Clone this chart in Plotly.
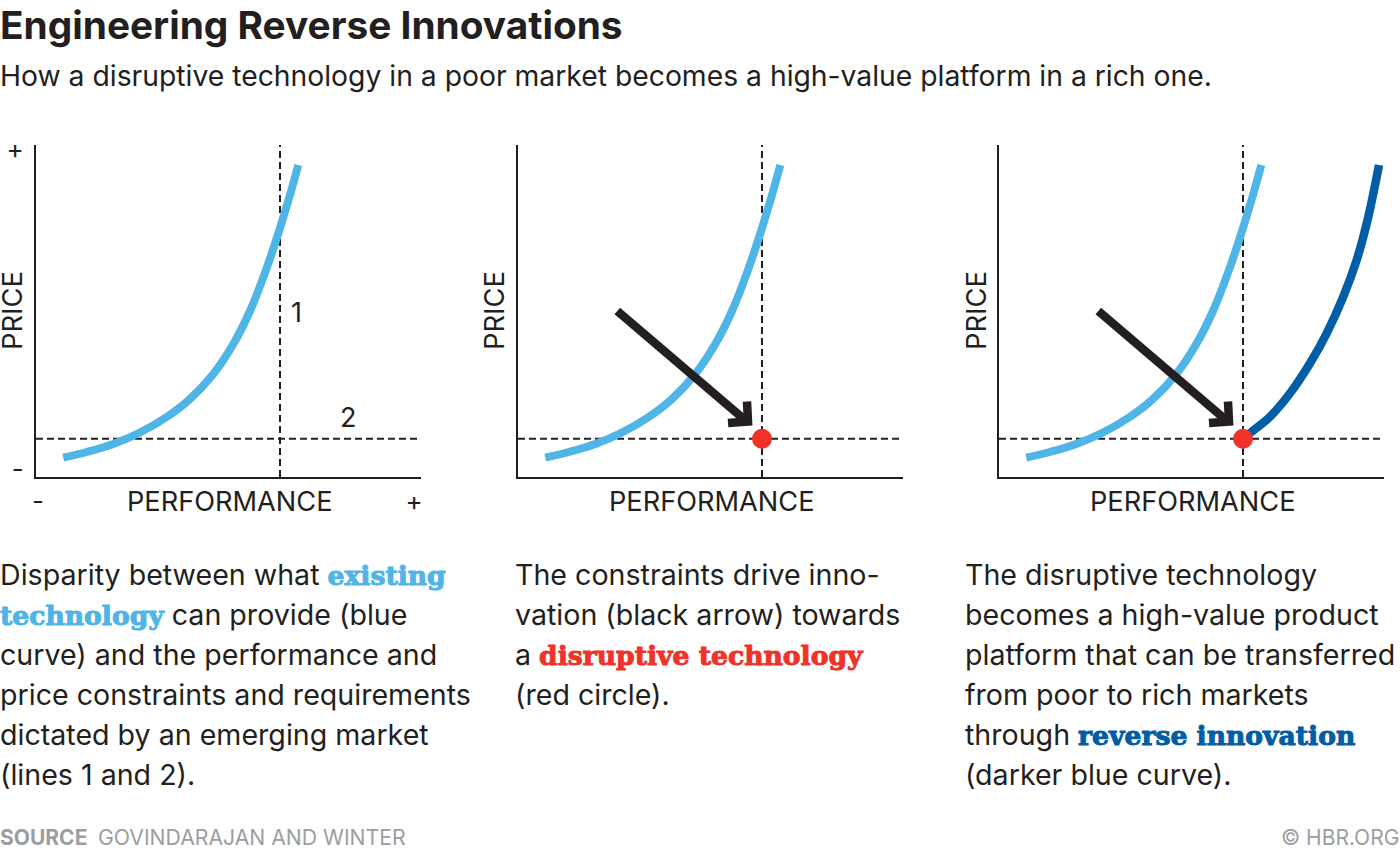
import plotly.graph_objects as go

W, H = 1400, 852
FONT = "Inter"
SLAB = "DejaVu Serif"
INK = "#231f20"
LIGHT = "#4fb4e6"
DARK = "#005da6"
RED = "#ef3329"
GREY = "#9a9ea2"

# --- data (axis units) ---
existing_x = [28.3, 51.7, 78.3, 105, 131.7, 155, 178.3, 198.3, 215, 231.7, 245, 255, 263.3]
existing_y = [20.3, 26, 34, 45.5, 61, 79, 104, 134, 167, 210, 250, 283, 313]
reverse_x = [245, 253.7, 272, 292, 312, 328.7, 345.3, 358.7, 370.3, 381]
reverse_y = [39.3, 46.3, 61.3, 84.7, 114.7, 144.7, 181.3, 218, 261.3, 313]
limit_performance = 245
limit_price = 39.3
arrow_shaft_x = [100.3, 228]
arrow_shaft_y = [167, 58]
arrow_head_x = [230, 231, 211]
arrow_head_y = [76.5, 56.5, 55]
x_range = [1, 386]
y_range = [1, 333]

title = "Engineering Reverse Innovations"
subtitle = "How a disruptive technology in a poor market becomes a high-value platform in a rich one."
x_label = "PERFORMANCE"
y_label = "PRICE"
x_tick_vals = [3, 379]
y_tick_vals = [9, 329]
tick_text_x = ["-", "+"]
tick_text_y = ["-", "+"]


def hl(text, color):
    return (f'<span style="font-family:\'{SLAB}\';font-weight:700;font-size:26.6px;color:{color};'
            f'stroke:{color};stroke-width:1px">{text}</span>')


col1 = [
    "Disparity between what " + hl("existing", LIGHT),
    hl("technology", LIGHT) + " can provide (blue",
    "curve) and the performance and",
    "price constraints and requirements",
    "dictated by an emerging market",
    "(lines 1 and 2).",
]
col2 = [
    "The constraints drive inno-",
    "vation (black arrow) towards",
    "a " + hl("disruptive technology", RED),
    "(red circle).",
]
col3 = [
    "The disruptive technology",
    "becomes a high-value product",
    "platform that can be transferred",
    "from poor to rich markets",
    "through " + hl("reverse innovation", DARK),
    "(darker blue curve).",
]

panels = [35, 517, 998]
fig = go.Figure()


def xp(v):
    return v / W


def yp(v):
    return 1 - v / H


layout_axes = {}
for i, left in enumerate(panels):
    n = "" if i == 0 else str(i + 1)
    xa = dict(
        domain=[xp(left + 1), xp(left + 386)], range=x_range, showgrid=False, zeroline=False,
        showline=True, linecolor=INK, linewidth=2, anchor=f"y{n}",
    )
    ya = dict(
        domain=[yp(477), yp(145)], range=y_range, showgrid=False, zeroline=False,
        showline=True, linecolor=INK, linewidth=2, anchor=f"x{n}",
    )
    if i == 0:
        xa.update(tickmode="array", tickvals=x_tick_vals, ticktext=tick_text_x, ticks="",
                  tickfont=dict(family=FONT, size=26, color=INK))
        ya.update(tickmode="array", tickvals=y_tick_vals, ticktext=tick_text_y, ticks="outside",
                  ticklen=5, tickcolor="rgba(0,0,0,0)", tickfont=dict(family=FONT, size=26, color=INK))
    else:
        xa.update(showticklabels=False, ticks="")
        ya.update(showticklabels=False, ticks="")
    layout_axes[f"xaxis{n}"] = xa
    layout_axes[f"yaxis{n}"] = ya

    ax, ay = f"x{n}", f"y{n}"
    dash = dict(color=INK, width=2, dash="7px,4px")
    fig.add_trace(go.Scatter(x=[limit_performance] * 2, y=y_range, mode="lines", line=dash, xaxis=ax, yaxis=ay))
    fig.add_trace(go.Scatter(x=x_range, y=[limit_price] * 2, mode="lines", line=dash, xaxis=ax, yaxis=ay))
    fig.add_trace(go.Scatter(x=existing_x, y=existing_y, mode="lines",
                             line=dict(color=LIGHT, width=8, shape="spline", smoothing=1), xaxis=ax, yaxis=ay))
    if i == 2:
        fig.add_trace(go.Scatter(x=reverse_x, y=reverse_y, mode="lines",
                                 line=dict(color=DARK, width=8.5, shape="spline", smoothing=1), xaxis=ax, yaxis=ay))
    if i > 0:
        fig.add_trace(go.Scatter(x=arrow_shaft_x, y=arrow_shaft_y, mode="lines",
                                 line=dict(color=INK, width=8.5), xaxis=ax, yaxis=ay))
        fig.add_trace(go.Scatter(x=arrow_head_x, y=arrow_head_y, mode="lines",
                                 line=dict(color=INK, width=8.5), xaxis=ax, yaxis=ay))
        fig.add_trace(go.Scatter(x=[limit_performance], y=[limit_price], mode="markers",
                                 marker=dict(color=RED, size=20, line=dict(width=0)), xaxis=ax, yaxis=ay))

ann = []


def put(text, x, y, size=28.6, color=INK, anchor="left", angle=0):
    ann.append(dict(text=text, xref="paper", yref="paper", x=xp(x), y=yp(y), xanchor=anchor, yanchor="middle",
                    showarrow=False, textangle=angle, align=anchor, borderpad=0,
                    font=dict(family=FONT, size=size, color=color)))


put(subtitle, -1, 76, size=28.3)
for cx in [230, 712, 1193]:
    put(x_label, cx, 501, size=27.2, anchor="center")
for cx in [12, 494, 976]:
    put(y_label, cx, 311, size=27.4, anchor="center", angle=-90)
put("1", 296, 313, size=27, anchor="center")
put("2", 348, 417, size=27, anchor="center")
for x0, lines in [(-1.5, col1), (513.5, col2), (963.5, col3)]:
    for k, line in enumerate(lines):
        put(line, x0, 574 + 40 * k)
put("<b>SOURCE</b>", -1, 837, size=21, color=GREY)
put("GOVINDARAJAN AND WINTER", 97, 837, size=21.2, color=GREY)
put("© HBR.ORG", 1400, 837, size=21, color=GREY, anchor="right")

fig.update_layout(
    width=W, height=H, margin=dict(l=0, r=0, t=0, b=0, autoexpand=False), showlegend=False,
    paper_bgcolor="white", plot_bgcolor="white", annotations=ann,
    title=dict(text="<b>" + title + "</b>", x=0, xanchor="left", xref="paper", y=yp(25), yanchor="middle",
               yref="paper", pad=dict(l=0, r=0, t=0, b=0), font=dict(family=FONT, size=38.8, color=INK)),
    **layout_axes,
)
fig.write_html("out.html", config={"displayModeBar": False},
               post_script="document.body.style.margin='0';document.body.style.overflow='hidden';")
